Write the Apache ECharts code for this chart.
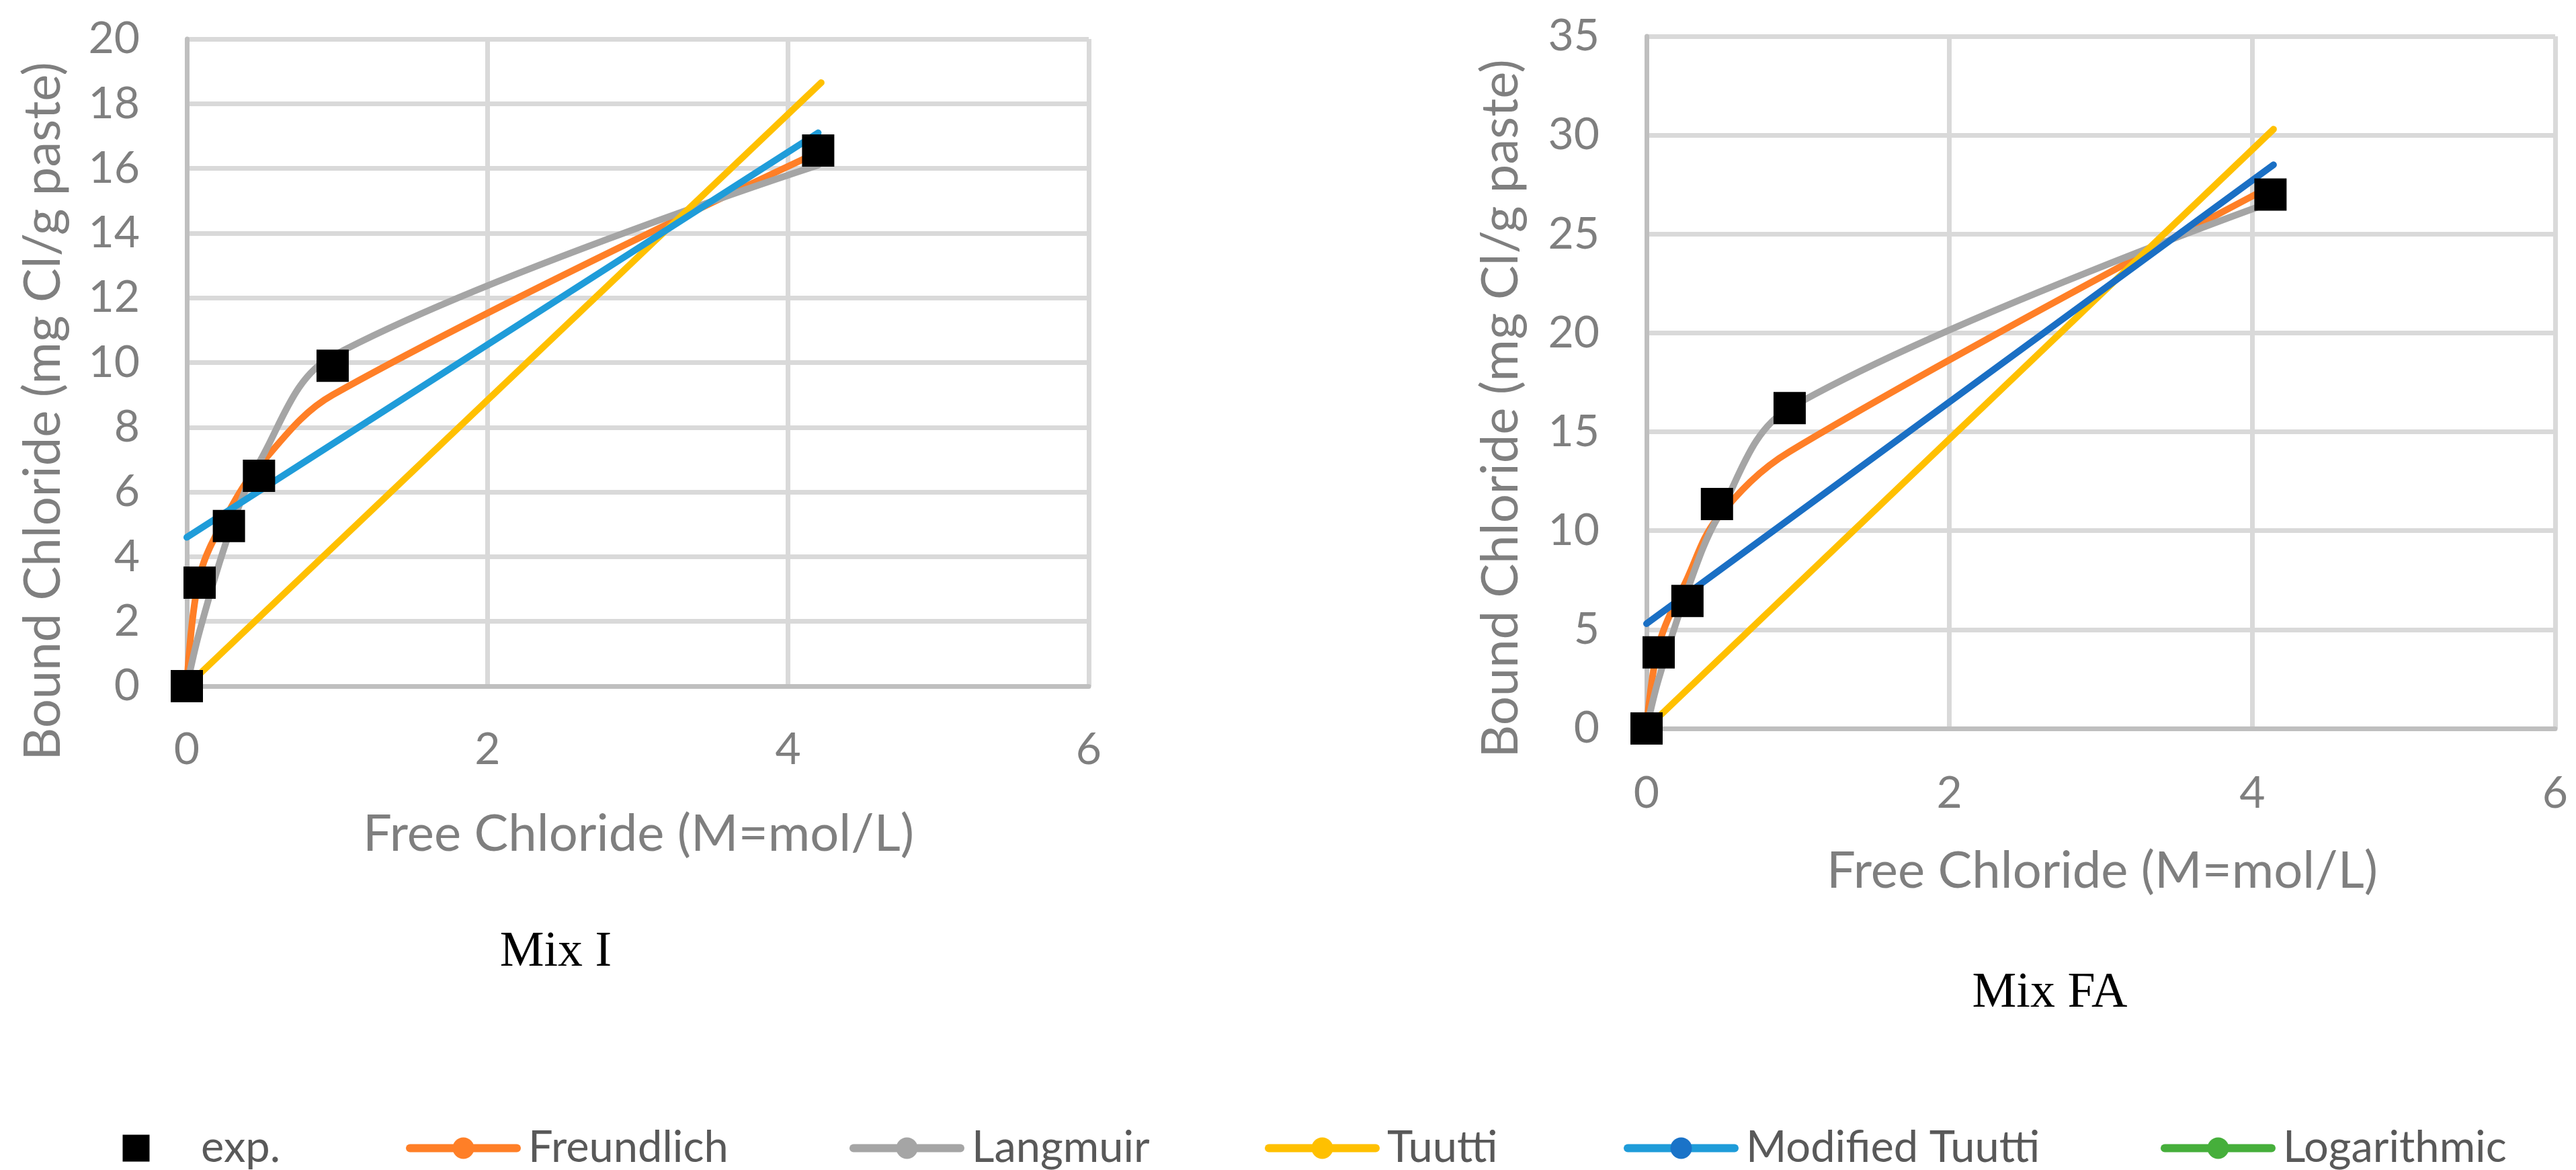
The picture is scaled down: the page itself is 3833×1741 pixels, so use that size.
<!DOCTYPE html>
<html><head><meta charset="utf-8">
<script src="https://cdn.jsdelivr.net/npm/echarts@6/dist/echarts.min.js"></script>
<style>html,body{margin:0;padding:0;background:#fff;} #c{width:3833px;height:1741px;}</style>
</head><body><div id="c"></div>
<script>
// ---- legend / series names ----
const seriesNames = ['exp.', 'Freundlich', 'Langmuir', 'Tuutti', 'Modified Tuutti', 'Logarithmic'];

// ---- Mix I ----
const mixI_x = [0, 0.085, 0.28, 0.48, 0.97, 4.2];
const mixI_exp = [0, 3.2, 4.95, 6.5, 9.9, 16.55];
const mixI_freundlich = [0, 3.4, 5.4, 6.8, 9.0, 16.5];
const mixI_langmuir = [0, 1.7, 4.7, 6.9, 10.2, 16.1];
const mixI_tuutti_x = [0, 4.22];
const mixI_tuutti = [0, 18.65];
const mixI_modTuutti_x = [0, 4.2];
const mixI_modTuutti = [4.6, 17.1];

// ---- Mix FA ----
const mixFA_x = [0, 0.08, 0.27, 0.465, 0.945, 4.12];
const mixFA_exp = [0, 3.85, 6.45, 11.35, 16.2, 27.0];
const mixFA_freundlich = [0, 4.2, 7.6, 10.6, 14.0, 27.4];
const mixFA_langmuir = [0, 2.5, 7.0, 10.6, 16.2, 26.6];
const mixFA_tuutti_x = [0, 4.14];
const mixFA_tuutti = [0, 30.3];
const mixFA_modTuutti_x = [0, 4.14];
const mixFA_modTuutti = [5.3, 28.5];

// ---- axes ----
const xTicks = [0, 2, 4, 6];
const yTicksMixI = [0, 2, 4, 6, 8, 10, 12, 14, 16, 18, 20];
const yTicksMixFA = [0, 5, 10, 15, 20, 25, 30, 35];
const xTitle = 'Free Chloride (M=mol/L)';
const yTitle = 'Bound Chloride (mg Cl/g paste)';
const captions = ['Mix I', 'Mix FA'];

const pairs = (xs, ys) => xs.map((x, i) => [x, ys[i]]);
const FONT = 'Lato';
const LABEL = '#7F7F7F';

const colors = {
  orange: '#FF7F27', gray: '#A5A5A5', yellow: '#FFC000',
  blueL: '#1F9CD9', blueR: '#1A6FC4', blueMark: '#1A73C8', green: '#46AF3B'
};

function lineSeries(name, gi, xs, ys, color, markColor) {
  return {
    name, type: 'line', xAxisIndex: gi, yAxisIndex: gi,
    data: pairs(xs, ys), smooth: 0.35, showSymbol: false, symbol: 'circle',
    clip: false, z: 3,
    lineStyle: { width: 10, color: color, cap: 'round', join: 'round' },
    itemStyle: { color: markColor || color },
    emphasis: { disabled: true }
  };
}
function expSeries(gi, xs, ys) {
  return {
    name: 'exp.', type: 'scatter', xAxisIndex: gi, yAxisIndex: gi,
    data: pairs(xs, ys), symbol: 'rect', symbolSize: 48, clip: false, z: 10,
    itemStyle: { color: '#000000', opacity: 1 }, emphasis: { disabled: true }
  };
}
function xAxisOf(gi, margin) {
  return {
    gridIndex: gi, type: 'value', min: xTicks[0], max: xTicks[xTicks.length - 1], interval: xTicks[1] - xTicks[0],
    axisLine: { show: true, onZero: false, lineStyle: { color: '#BFBFBF', width: 7 } },
    axisTick: { show: false },
    splitLine: { show: true, lineStyle: { color: '#D9D9D9', width: 7 } },
    axisLabel: { fontFamily: FONT, fontSize: 66, color: LABEL, margin: margin }
  };
}
function yAxisOf(gi, ticks) {
  return {
    gridIndex: gi, type: 'value', min: ticks[0], max: ticks[ticks.length - 1], interval: ticks[1] - ticks[0],
    axisLine: { show: true, onZero: false, lineStyle: { color: '#BFBFBF', width: 7 } },
    axisTick: { show: false },
    splitLine: { show: true, lineStyle: { color: '#D9D9D9', width: 7 } },
    axisLabel: { fontFamily: FONT, fontSize: 66, color: LABEL, margin: 70 }
  };
}
function txt(x, y, text, size, family, fill, rot) {
  return {
    type: 'text', x: x, y: y, rotation: rot || 0, silent: true,
    style: { text: text, fontSize: size, fontFamily: family, fill: fill, align: 'center', verticalAlign: 'middle' }
  };
}

// legend icon for exp.: a 40x40 square centred in the 159px icon slot
const squareIcon = 'path://M0,20L0.01,20M59.5,0L99.5,0L99.5,40L59.5,40ZM158.99,20L159,20';
const legendLefts = [118, 599, 1259, 1877, 2411, 3210];

const legends = seriesNames.map((n, i) => ({
  left: legendLefts[i], top: 1671, itemWidth: 159, itemHeight: 40,
  selectedMode: false,
  data: [n === 'exp.' ? { name: n, icon: squareIcon } : { name: n }],
  lineStyle: { width: 12 },
  textStyle: { fontFamily: FONT, fontSize: 65, color: '#595959', padding: [0, 0, 0, 12] }
}));

const chart = echarts.init(document.getElementById('c'), null, { renderer: 'canvas' });
chart.setOption({
  animation: false,
  backgroundColor: '#ffffff',
  grid: [
    { left: 278, top: 58, width: 1342, height: 963 },
    { left: 2450, top: 54, width: 1352, height: 1030 }
  ],
  xAxis: [xAxisOf(0, 62), xAxisOf(1, 64)],
  yAxis: [yAxisOf(0, yTicksMixI), yAxisOf(1, yTicksMixFA)],
  legend: legends,
  graphic: [
    txt(64, 612, yTitle, 76, FONT, LABEL, Math.PI / 2),
    txt(2233, 608, yTitle, 76, FONT, LABEL, Math.PI / 2),
    txt(950, 1241, xTitle, 76, FONT, LABEL),
    txt(3128, 1296, xTitle, 76, FONT, LABEL),
    txt(827, 1418, captions[0], 74, 'Liberation Serif', '#000000'),
    txt(3050, 1479, captions[1], 74, 'Liberation Serif', '#000000')
  ],
  series: [
    expSeries(0, mixI_x, mixI_exp),
    lineSeries('Freundlich', 0, mixI_x, mixI_freundlich, colors.orange),
    lineSeries('Langmuir', 0, mixI_x, mixI_langmuir, colors.gray),
    lineSeries('Tuutti', 0, mixI_tuutti_x, mixI_tuutti, colors.yellow),
    lineSeries('Modified Tuutti', 0, mixI_modTuutti_x, mixI_modTuutti, colors.blueL, colors.blueMark),
    lineSeries('Logarithmic', 0, [], [], colors.green),
    expSeries(1, mixFA_x, mixFA_exp),
    lineSeries('Freundlich', 1, mixFA_x, mixFA_freundlich, colors.orange),
    lineSeries('Langmuir', 1, mixFA_x, mixFA_langmuir, colors.gray),
    lineSeries('Tuutti', 1, mixFA_tuutti_x, mixFA_tuutti, colors.yellow),
    lineSeries('Modified Tuutti', 1, mixFA_modTuutti_x, mixFA_modTuutti, colors.blueR, colors.blueMark)
  ]
});
</script></body></html>
